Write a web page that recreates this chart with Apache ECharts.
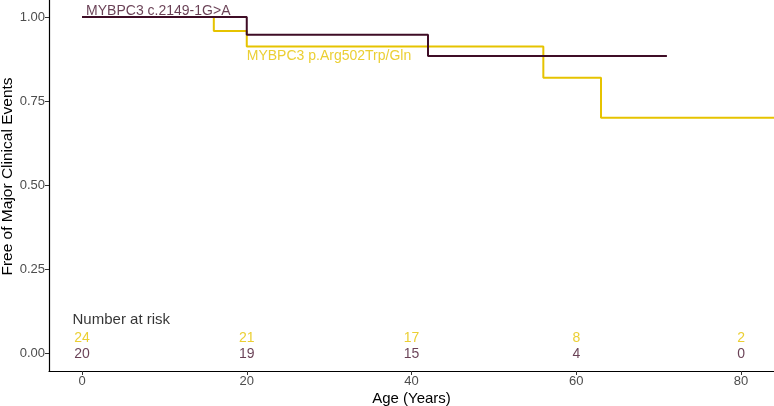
<!DOCTYPE html>
<html>
<head>
<meta charset="utf-8">
<script src="https://cdn.jsdelivr.net/npm/echarts@6/dist/echarts.min.js"></script>
<style>
  html, body { margin: 0; padding: 0; background: #fff; }
  #chart { width: 774px; height: 406px; }
</style>
</head>
<body>
<div id="chart"></div>
<script>
// survival curves (age, probability)
const darkName = 'MYBPC3 c.2149-1G>A';
const darkAges = [0, 20, 42, 71];
const darkSurv = [1.0, 0.947, 0.884, 0.884];

const yellowName = 'MYBPC3 p.Arg502Trp/Gln';
const yellowAges = [0, 16, 20, 56, 63, 85];
const yellowSurv = [1.0, 0.958, 0.912, 0.819, 0.70, 0.70];

// number at risk table
const riskAges = [0, 20, 40, 60, 80];
const yellowRisk = [24, 21, 17, 8, 2];
const darkRisk = [20, 19, 15, 4, 0];

const xTicks = [0, 20, 40, 60, 80];
const yTicks = [0, 0.25, 0.5, 0.75, 1.0];

const DARK = '#3f0d26';
const DARK_TXT = '#44102a';
const YELLOW = '#e6c300';
const FONT = '"Liberation Sans", Arial, sans-serif';

const zip = (a, b) => a.map((v, i) => [v, b[i]]);

// a text-only scatter point
function textPoint(x, y, text, color, pos, size) {
  return {
    value: [x, y],
    label: {
      show: true, formatter: String(text), color: color,
      position: pos || 'inside', distance: 0,
      fontFamily: FONT, fontSize: size || 14
    }
  };
}

const textData = [
  textPoint(0.5, 1.018, darkName, DARK_TXT, 'right'),
  textPoint(20.0, 0.884, yellowName, YELLOW, 'right'),
  textPoint(-1.15, 0.100, 'Number at risk', '#000', 'right', 15)
];
riskAges.forEach((a, i) => {
  textData.push(textPoint(a, 0.044, yellowRisk[i], YELLOW));
  textData.push(textPoint(a, -0.003, darkRisk[i], DARK_TXT));
});

const chart = echarts.init(document.getElementById('chart'), null, { renderer: 'canvas' });
chart.setOption({
  animation: false,
  backgroundColor: '#fff',
  grid: { left: 49, right: 0, top: 0, bottom: 35, containLabel: false, outerBoundsMode: 'none' },
  xAxis: {
    type: 'value', min: -4.006, max: 84.0,
    name: 'Age (Years)', nameLocation: 'middle', nameGap: 20, nameMoveOverlap: false,
    nameTextStyle: { color: '#000', fontSize: 15, fontFamily: FONT },
    axisLine: { show: true, onZero: false, lineStyle: { color: '#000', width: 1.2 } },
    axisTick: { show: true, length: 4, customValues: xTicks, lineStyle: { color: '#333' } },
    axisLabel: { customValues: xTicks, color: '#4d4d4d', fontSize: 13, fontFamily: FONT, margin: 4 },
    splitLine: { show: false }
  },
  yAxis: {
    type: 'value', min: -0.0536, max: 1.0506,
    name: 'Free of Major Clinical Events', nameLocation: 'middle', nameGap: 33, nameMoveOverlap: false,
    nameTextStyle: { color: '#000', fontSize: 15.5, fontFamily: FONT, padding: [0, 0, 0, 18] },
    axisLine: { show: true, onZero: false, lineStyle: { color: '#000', width: 1.2 } },
    axisTick: { show: true, length: 4, customValues: yTicks, lineStyle: { color: '#333' } },
    axisLabel: {
      customValues: yTicks, color: '#4d4d4d', fontSize: 13, fontFamily: FONT, margin: 4,
      formatter: v => v.toFixed(2)
    },
    splitLine: { show: false }
  },
  series: [
    {
      name: yellowName, type: 'line', step: 'end', data: zip(yellowAges, yellowSurv),
      symbol: 'none', clip: false, lineStyle: { color: YELLOW, width: 2 }
    },
    {
      name: darkName, type: 'line', step: 'end', data: zip(darkAges, darkSurv),
      symbol: 'none', clip: false, lineStyle: { color: DARK, width: 2 }
    },
    {
      type: 'scatter', symbolSize: 0, data: textData, silent: true, clip: false
    }
  ]
});
</script>
</body>
</html>
